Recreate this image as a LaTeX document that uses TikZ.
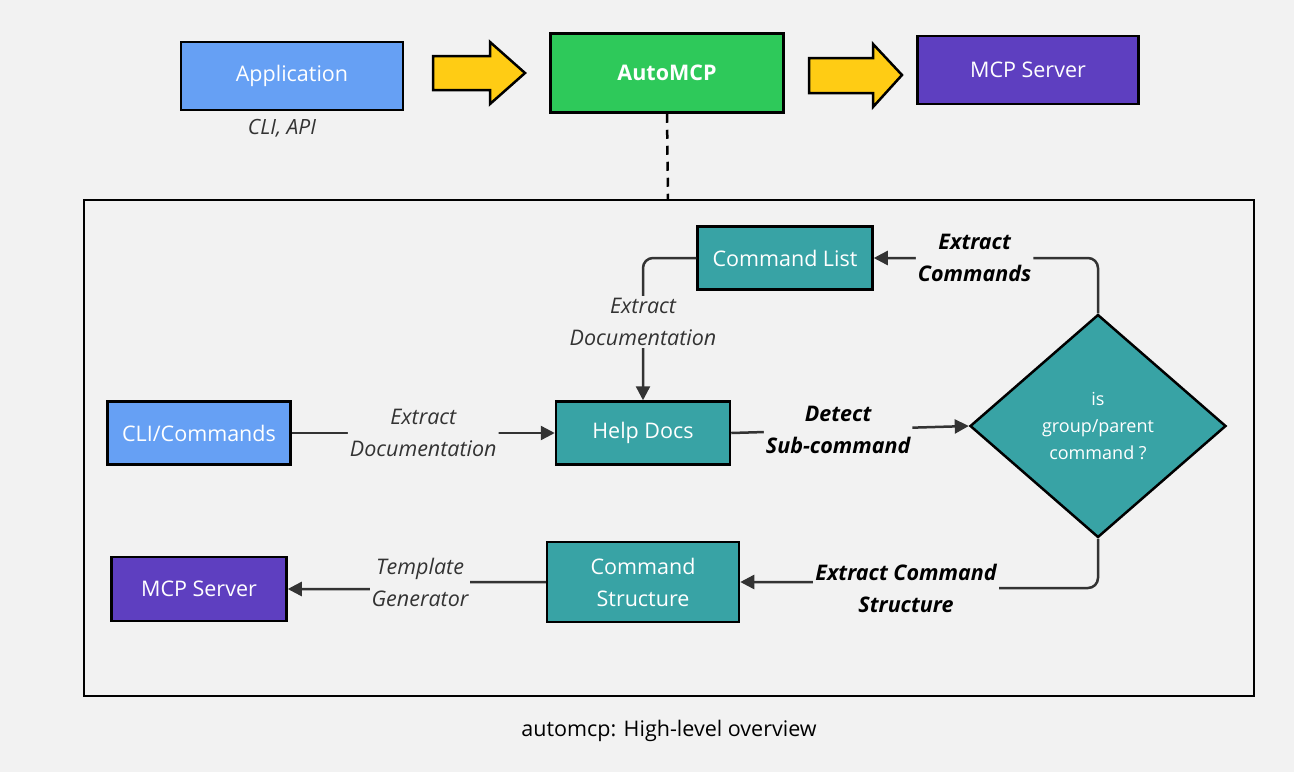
\documentclass[tikz,border=0pt]{standalone}
\usepackage{fontspec}
\setmainfont{Open Sans}
\usetikzlibrary{arrows.meta,shapes.geometric,shapes.arrows}
\definecolor{bg}{HTML}{F2F2F2}
\definecolor{blu}{HTML}{66A0F4}
\definecolor{grn}{HTML}{2EC95A}
\definecolor{pur}{HTML}{5E3FC0}
\definecolor{teal}{HTML}{38A3A5}
\definecolor{yel}{HTML}{FFCC14}
\definecolor{txt}{HTML}{333333}
\begin{document}
\begin{tikzpicture}[x=1pt,y=-1pt,
 box/.style={draw=black,line width=2.5pt,text=white,font=\fontsize{21.5}{24}\selectfont,align=center,inner sep=0pt},
 lab/.style={fill=bg,text=txt,font=\fontsize{21.5}{32}\selectfont\itshape,align=center,inner sep=2pt},
 blab/.style={lab,font=\fontsize{21.5}{32}\selectfont\bfseries\itshape,text=black},
 con/.style={draw=txt,line width=2.5pt,rounded corners=10pt},
 arr/.style={con,-{Triangle[length=14pt,width=14pt]}},
 yarr/.style={fill=yel,draw=black,line width=2.5pt}]
\fill[bg] (0,0) rectangle (1294,772);
\useasboundingbox (0,0) rectangle (1294,772);
\node[box,fill=blu,minimum width=222pt,minimum height=68pt] (app) at (292,76) {Application};
\node[font=\fontsize{21}{22}\selectfont\itshape,text=txt] (cli) at (282,128) {CLI, API};
\node[box,fill=grn,minimum width=233pt,minimum height=79pt,font=\fontsize{21.5}{24}\selectfont\bfseries] (auto) at (667,73) {AutoMCP};
\node[box,fill=pur,minimum width=221pt,minimum height=68pt] (mcp1) at (1028,70) {MCP Server};
\draw[yarr] (433,56)--(490,56)--(490,42)--(525,73)--(490,104)--(490,90)--(433,90)--cycle;
\draw[yarr] (809,58)--(873,58)--(873,44)--(902,75)--(873,107)--(873,93)--(809,93)--cycle;
\draw[line width=2.5pt] (84,200) rectangle (1254,696);
\coordinate (frm) at (668,200);
\draw[line width=2.5pt,dash pattern=on 9pt off 7pt] (auto.south) -- (frm);
\node[box,fill=teal,minimum width=175pt,minimum height=63pt] (cl) at (785,258) {Command List};
\node[box,fill=teal,minimum width=174pt,minimum height=63pt] (hd) at (643,433) {Help Docs};
\node[box,fill=blu,minimum width=183pt,minimum height=63pt] (clic) at (199,433) {CLI/Commands};
\node[box,fill=teal,minimum width=192pt,minimum height=80pt,font=\fontsize{21.5}{32}\selectfont] (cs) at (643,582) {Command\\Structure};
\node[box,fill=pur,minimum width=175pt,minimum height=64pt] (mcp2) at (199,589) {MCP Server};
\node[box,diamond,fill=teal,minimum width=256pt,minimum height=223pt,aspect=1.15,font=\fontsize{18}{27}\selectfont] (dia) at (1098,426) {is\\group/parent\\command ?};
\draw[arr] (clic.east) -- (hd.west) node[lab,midway] {Extract\\Documentation};
\draw[arr] (hd.east) -- (dia.west) node[blab,pos=0.45] {Detect\\Sub-command};
\draw[arr] (dia.north) -- (1098,258) -- (cl.east) node[blab,pos=0.55] {Extract\\Commands};
\draw[arr] (cl.west) -- (643,258) -- (hd.north) node[lab,pos=0.45] {Extract\\Documentation};
\draw[arr] (dia.south) -- (1098,588) -- (906,588) -- (906,582) -- (cs.east);
\node[blab] at (906,588) {Extract Command\\Structure};
\draw[arr] (cs.west) -- (420,582) -- (420,589) -- (mcp2.east);
\node[lab] at (420,582) {Template\\Generator};
\node[font=\fontsize{21.5}{24}\selectfont,text=black] (cap) at (669,731) {automcp: High-level overview};
\end{tikzpicture}
\end{document}
